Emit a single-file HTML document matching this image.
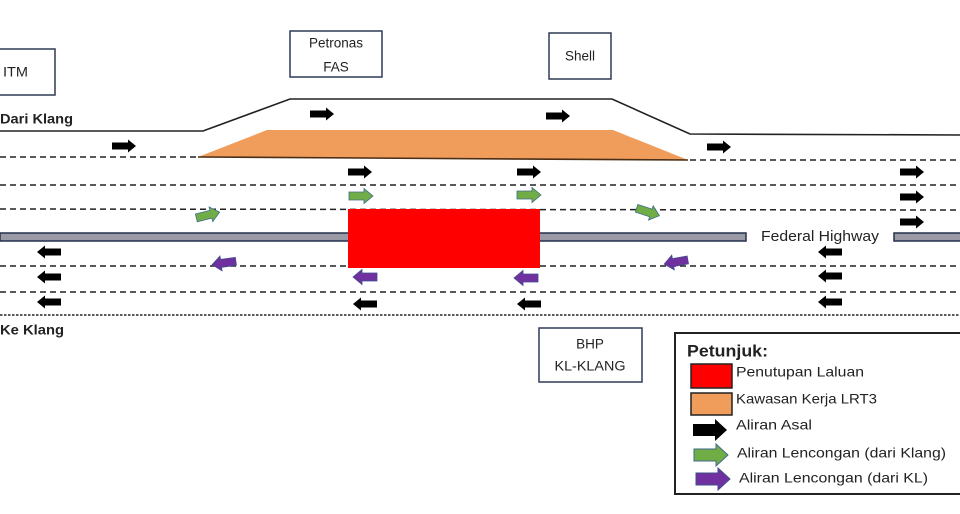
<!DOCTYPE html>
<html><head><meta charset="utf-8"><style>
html,body{margin:0;padding:0;background:#fff;}
svg{display:block;}
text{font-family:"Liberation Sans",sans-serif;fill:#222;}
</style></head><body>
<svg width="960" height="514" viewBox="0 0 960 514" xmlns="http://www.w3.org/2000/svg">
<defs>
<path id="ar" d="M-12,-3.5 H4 V-6.5 L12,0 L4,6.5 V3.5 H-12 Z"/>
<path id="arc" d="M-12,-4 H3 V-7.5 L12,0 L3,7.5 V4 H-12 Z"/>
<path id="lar" d="M-17,-6 H5 V-11 L17,0 L5,11 V6 H-17 Z"/>
</defs>

<!-- top carriageway edge -->
<polyline points="0,131 203,131 290,99 612,99 690,134 960,135" fill="none" stroke="#222" stroke-width="1.6"/>

<!-- orange work area -->
<polygon points="198,157 267,130 613,130 688,160" fill="#f09d5c"/>
<line x1="198" y1="157" x2="688" y2="160" stroke="#4a2e16" stroke-width="1.6"/>

<!-- dashed lanes -->
<g stroke="#222" stroke-width="1.5" stroke-dasharray="6,4" fill="none">
<line x1="0" y1="157" x2="199" y2="157"/>
<line x1="690" y1="160" x2="960" y2="160"/>
<line x1="0" y1="185" x2="960" y2="185"/>
<line x1="0" y1="209" x2="960" y2="210"/>
<line x1="0" y1="266" x2="960" y2="266"/>
<line x1="0" y1="292" x2="960" y2="292"/>
</g>
<line x1="0" y1="315" x2="960" y2="315" stroke="#222" stroke-width="1.6" stroke-dasharray="2.5,1.5"/>

<!-- median -->
<rect x="0" y="233" width="746" height="8" fill="#9a9aa6" stroke="#24314d" stroke-width="1.5"/>
<rect x="894" y="233" width="70" height="8" fill="#9a9aa6" stroke="#24314d" stroke-width="1.5"/>
<text x="761" y="237" font-size="14.5" dominant-baseline="middle" textLength="118" lengthAdjust="spacingAndGlyphs">Federal Highway</text>

<!-- red closure -->
<rect x="348" y="209" width="192" height="59" fill="#ff0000"/>

<!-- black arrows right -->
<g fill="#000">
<use href="#ar" transform="translate(124,146)"/>
<use href="#ar" transform="translate(322,114)"/>
<use href="#ar" transform="translate(558,116)"/>
<use href="#ar" transform="translate(719,147)"/>
<use href="#ar" transform="translate(360,172)"/>
<use href="#ar" transform="translate(529,172)"/>
<use href="#ar" transform="translate(912,172)"/>
<use href="#ar" transform="translate(912,197)"/>
<use href="#ar" transform="translate(912,222)"/>
<!-- black arrows left -->
<use href="#ar" transform="translate(49,252) scale(-1,1)"/>
<use href="#ar" transform="translate(49,277) scale(-1,1)"/>
<use href="#ar" transform="translate(49,302) scale(-1,1)"/>
<use href="#ar" transform="translate(365,304) scale(-1,1)"/>
<use href="#ar" transform="translate(529,304) scale(-1,1)"/>
<use href="#ar" transform="translate(830,252) scale(-1,1)"/>
<use href="#ar" transform="translate(830,276) scale(-1,1)"/>
<use href="#ar" transform="translate(830,302) scale(-1,1)"/>
</g>

<!-- green arrows -->
<g fill="#70ad47" stroke="#3f6b8a" stroke-width="0.8">
<use href="#arc" transform="translate(361,196)"/>
<use href="#arc" transform="translate(529,195)"/>
<use href="#arc" transform="translate(208,215) rotate(-14)"/>
<use href="#arc" transform="translate(648,212) rotate(18)"/>
</g>
<!-- purple arrows -->
<g fill="#7030a0" stroke="#3f4f8a" stroke-width="0.8">
<use href="#arc" transform="translate(365,277) scale(-1,1)"/>
<use href="#arc" transform="translate(526,278) scale(-1,1)"/>
<use href="#arc" transform="translate(224,263) scale(-1,1) rotate(8)"/>
<use href="#arc" transform="translate(676,262) scale(-1,1) rotate(10)"/>
</g>

<!-- labels / boxes -->
<g fill="#fff" stroke="#2f3b57" stroke-width="1.5">
<rect x="-5" y="49" width="60" height="46"/>
<rect x="290" y="31" width="92" height="46"/>
<rect x="549" y="33" width="62" height="46"/>
<rect x="539" y="328" width="103" height="54"/>
</g>
<text x="3" y="73" font-size="14" dominant-baseline="middle" textLength="25" lengthAdjust="spacingAndGlyphs">ITM</text>
<text x="336" y="44" font-size="13.5" text-anchor="middle" dominant-baseline="middle">Petronas</text>
<text x="336" y="68" font-size="13.5" text-anchor="middle" dominant-baseline="middle">FAS</text>
<text x="580" y="57" font-size="13.5" text-anchor="middle" dominant-baseline="middle">Shell</text>
<text x="590" y="345" font-size="13.5" text-anchor="middle" dominant-baseline="middle">BHP</text>
<text x="590" y="367" font-size="13.5" text-anchor="middle" dominant-baseline="middle" textLength="71" lengthAdjust="spacingAndGlyphs">KL-KLANG</text>
<text x="0" y="120" font-size="14" font-weight="bold" dominant-baseline="middle" textLength="73" lengthAdjust="spacingAndGlyphs">Dari Klang</text>
<text x="0" y="331" font-size="14" font-weight="bold" dominant-baseline="middle" textLength="64" lengthAdjust="spacingAndGlyphs">Ke Klang</text>

<!-- legend -->
<rect x="675" y="333" width="300" height="161" fill="#fff" stroke="#222" stroke-width="2"/>
<text x="687" y="352" font-size="17" font-weight="bold" dominant-baseline="middle" textLength="81" lengthAdjust="spacingAndGlyphs">Petunjuk:</text>
<rect x="691" y="364" width="41" height="24" fill="#ff0000" stroke="#222" stroke-width="1.5"/>
<text x="736" y="373" font-size="14" dominant-baseline="middle" textLength="128" lengthAdjust="spacingAndGlyphs">Penutupan Laluan</text>
<rect x="691" y="393" width="41" height="22" fill="#f09d5c" stroke="#222" stroke-width="1.5"/>
<text x="736" y="400" font-size="14" dominant-baseline="middle" textLength="141" lengthAdjust="spacingAndGlyphs">Kawasan Kerja LRT3</text>
<use href="#lar" transform="translate(710,430)" fill="#000"/>
<text x="736" y="426" font-size="14" dominant-baseline="middle" textLength="76" lengthAdjust="spacingAndGlyphs">Aliran Asal</text>
<use href="#lar" transform="translate(711,455)" fill="#70ad47" stroke="#3f6b8a" stroke-width="1"/>
<text x="737" y="454" font-size="14" dominant-baseline="middle" textLength="209" lengthAdjust="spacingAndGlyphs">Aliran Lencongan (dari Klang)</text>
<use href="#lar" transform="translate(713,479)" fill="#7030a0" stroke="#3f4f8a" stroke-width="1"/>
<text x="739" y="479" font-size="14" dominant-baseline="middle" textLength="189" lengthAdjust="spacingAndGlyphs">Aliran Lencongan  (dari KL)</text>
</svg>
</body></html>
